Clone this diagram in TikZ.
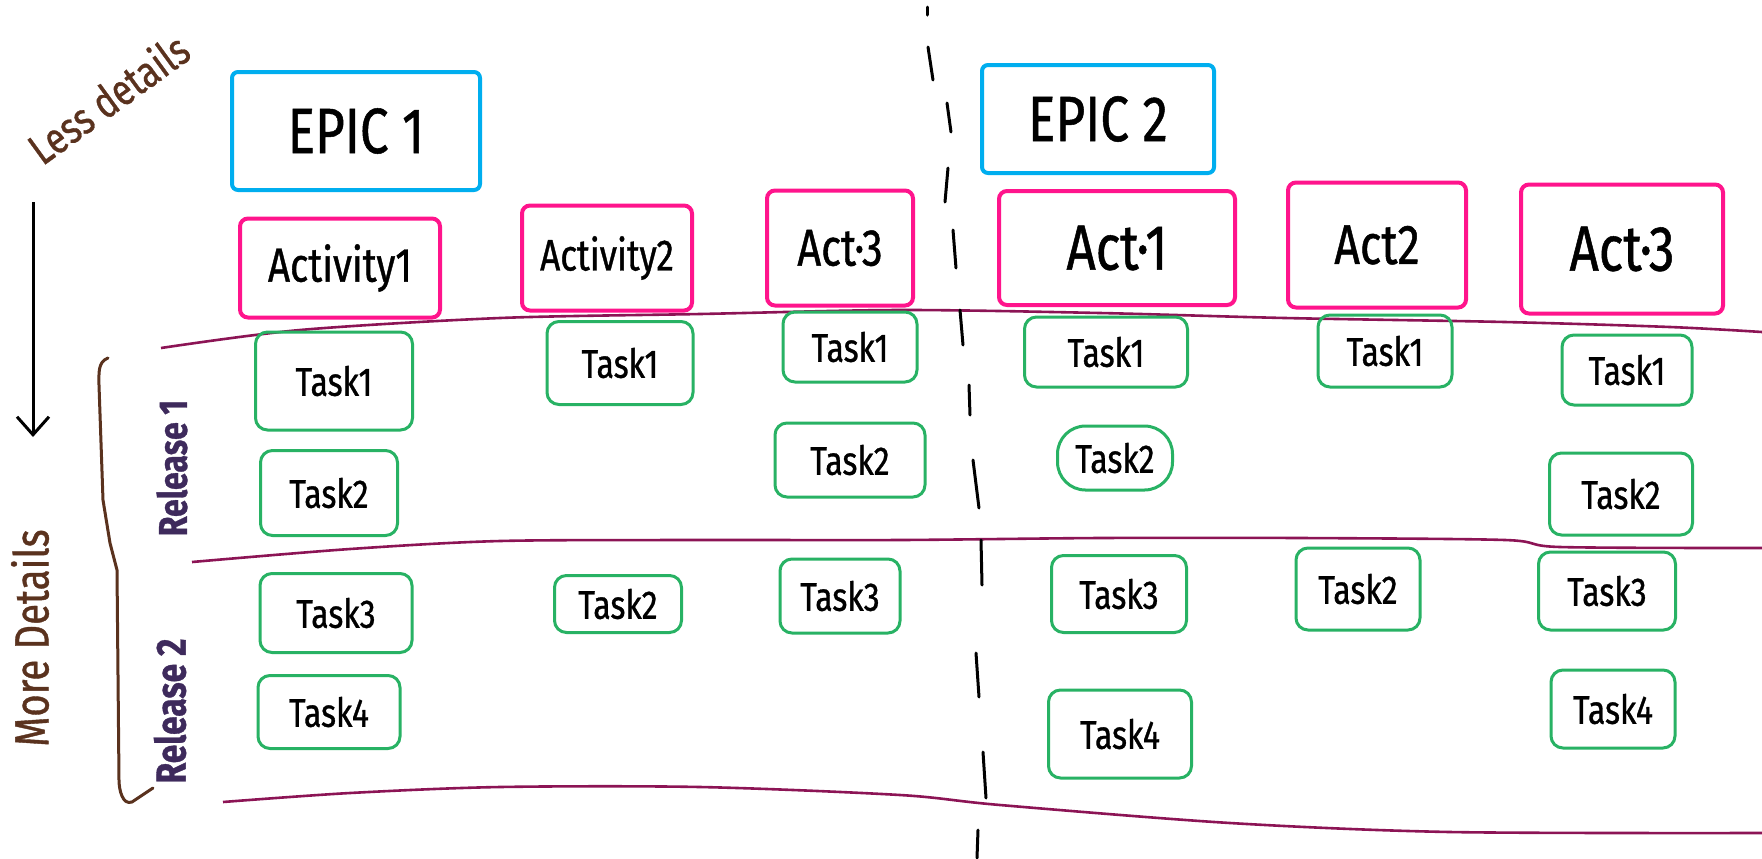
\documentclass[tikz,border=0pt]{standalone}
\usepackage{fontspec}
\newfontfamily\hand[FakeStretch=0.8,FakeBold=0.8]{Fira Sans}
\usetikzlibrary{arrows.meta}
\definecolor{epicblue}{RGB}{0,174,239}
\definecolor{actpink}{RGB}{255,20,140}
\definecolor{taskgreen}{RGB}{40,178,100}
\definecolor{relmaroon}{RGB}{140,20,85}
\definecolor{penbrown}{RGB}{90,50,30}
\definecolor{penpurple}{RGB}{62,42,92}
\tikzset{
  epicbox/.style={draw=epicblue, line width=2pt, rounded corners=3pt, inner sep=0pt,
    font=\hand\fontsize{32}{34}\selectfont},
  actbox/.style={draw=actpink, line width=2pt, rounded corners=4pt, inner sep=0pt,
    font=\hand\fontsize{28}{30}\selectfont},
  taskbox/.style={draw=taskgreen, line width=1.5pt, rounded corners=6pt, inner sep=0pt,
    font=\hand\fontsize{20}{22}\selectfont},
  relline/.style={draw=relmaroon, line width=1.3pt},
  divdash/.style={draw=black, line width=1.5pt, line cap=round},
  brownnote/.style={text=penbrown, font=\hand\fontsize{22}{24}\selectfont},
  relnote/.style={text=penpurple, font=\hand\bfseries\fontsize{20}{22}\selectfont},
}
\begin{document}
\begin{tikzpicture}[x=0.5pt,y=-0.5pt]
\useasboundingbox (0,0) rectangle (1762,858);
\fill[white] (0,0) rectangle (1762,858);

% release separator lines
\draw[relline] plot[smooth] coordinates {(161,348) (300,330) (500,318) (700,314) (900,310) (1100,313) (1285,318) (1505,322) (1670,327) (1762,332)};
\draw[relline] plot[smooth] coordinates {(192,562) (350,549) (500,541) (700,540) (900,540) (1100,538) (1300,538) (1505,540) (1560,547) (1762,548)};
\draw[relline] plot[smooth] coordinates {(223,802) (350,793) (500,787) (700,787) (900,795) (1000,805) (1230,823) (1450,832) (1762,833)};

% dashed divider
\draw[divdash] (927,7) -- (927,15);
\draw[divdash] (928,47) -- (933,80);
\draw[divdash] (947,103) -- (951,132);
\draw[divdash] (948,168) -- (945,202);
\draw[divdash] (953,230) -- (956,268);
\draw[divdash] (960,310) -- (963,345);
\draw[divdash] (969,385) -- (970,415);
\draw[divdash] (973,460) -- (979,508);
\draw[divdash] (981,540) -- (982,585);
\draw[divdash] (976,653) -- (979,697);
\draw[divdash] (983,752) -- (986,798);
\draw[divdash] (978,830) -- (977,858);

% epics
\node[epicbox, minimum width=124pt, minimum height=59pt] (epic1) at (356,131) {EPIC 1};
\node[epicbox, minimum width=116pt, minimum height=54pt] (epic2) at (1098,119) {EPIC 2};

% activities
\node[actbox, minimum width=100pt, minimum height=49.5pt, font=\hand\fontsize{24}{26}\selectfont] (a11) at (340,268) {Activity1};
\node[actbox, minimum width=85pt, minimum height=52.5pt, font=\hand\fontsize{22}{24}\selectfont] (a12) at (607,258) {Activity2};
\node[actbox, minimum width=73pt, minimum height=57.5pt, font=\hand\fontsize{26}{28}\selectfont] (a13) at (840,248) {Act·3};
\node[actbox, minimum width=118pt, minimum height=57pt, font=\hand\fontsize{32}{34}\selectfont] (a21) at (1117,248) {Act·1};
\node[actbox, minimum width=89pt, minimum height=62.5pt] (a22) at (1377,245) {Act2};
\node[actbox, minimum width=101pt, minimum height=64.5pt, font=\hand\fontsize{32}{34}\selectfont] (a23) at (1622,249) {Act·3};

% tasks, epic 1
\node[taskbox, minimum width=78.5pt, minimum height=49pt] (t11a) at (334,381) {Task1};
\node[taskbox, minimum width=68.5pt, minimum height=42.5pt] (t11b) at (329,493) {Task2};
\node[taskbox, minimum width=76pt, minimum height=39.5pt] (t11c) at (336,613) {Task3};
\node[taskbox, minimum width=71pt, minimum height=36.5pt] (t11d) at (329,712) {Task4};
\node[taskbox, minimum width=73pt, minimum height=41.5pt] (t12a) at (620,363) {Task1};
\node[taskbox, minimum width=63.5pt, minimum height=28.5pt] (t12b) at (618,604) {Task2};
\node[taskbox, minimum width=67pt, minimum height=35pt] (t13a) at (850,347) {Task1};
\node[taskbox, minimum width=75pt, minimum height=37pt] (t13b) at (850,460) {Task2};
\node[taskbox, minimum width=60pt, minimum height=37pt] (t13c) at (840,596) {Task3};

% tasks, epic 2
\node[taskbox, minimum width=81.5pt, minimum height=35pt] (t21a) at (1106,352) {Task1};
\node[taskbox, rounded corners=14pt, minimum width=57.5pt, minimum height=32pt] (t21b) at (1115,458) {Task2};
\node[taskbox, minimum width=67.5pt, minimum height=38.5pt] (t21c) at (1119,594) {Task3};
\node[taskbox, minimum width=71.5pt, minimum height=44pt] (t21d) at (1120,734) {Task4};
\node[taskbox, minimum width=67pt, minimum height=36pt] (t22a) at (1385,351) {Task1};
\node[taskbox, minimum width=62pt, minimum height=41pt] (t22b) at (1358,589) {Task2};
\node[taskbox, minimum width=65pt, minimum height=35pt] (t23a) at (1627,370) {Task1};
\node[taskbox, minimum width=71.5pt, minimum height=41pt] (t23b) at (1621,494) {Task2};
\node[taskbox, minimum width=68.5pt, minimum height=39pt] (t23c) at (1607,591) {Task3};
\node[taskbox, minimum width=62pt, minimum height=39pt] (t23d) at (1613,709) {Task4};

% left annotations
\node[brownnote, rotate=36] (less) at (108,98) {Less details};
\node[brownnote, rotate=90, font=\hand\fontsize{24}{26}\selectfont] (more) at (30,638) {More Details};
\coordinate (arrtop) at (33,202);
\coordinate (arrbot) at (33,437);
\draw[line width=1.5pt, -{Straight Barb[length=9pt,width=16pt]}] (arrtop) -- (arrbot);

% release brace and labels
\draw[penbrown, line width=1.5pt, line cap=round, line join=round]
  (108,358) to[out=200,in=90] (99,385) -- (103,500) -- (110,543) -- (117,570) -- (119,780)
  to[out=-90,in=200] (132,802) -- (153,788);
\node[relnote, rotate=90] (rel1) at (172,468) {Release 1};
\node[relnote, rotate=90, font=\hand\bfseries\fontsize{21}{23}\selectfont] (rel2) at (170,711) {Release 2};
\end{tikzpicture}
\end{document}
